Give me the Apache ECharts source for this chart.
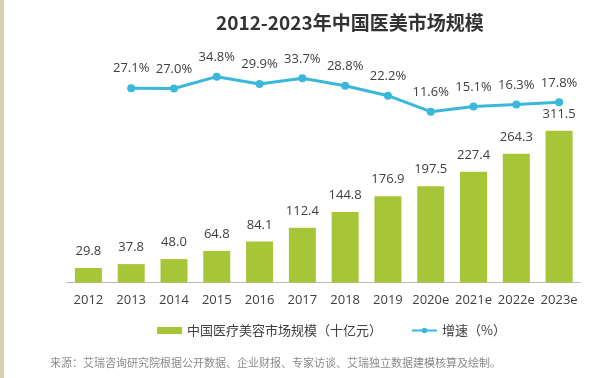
<!DOCTYPE html>
<html>
<head>
<meta charset="utf-8">
<script src="https://cdn.jsdelivr.net/npm/echarts@6/dist/echarts.min.js"></script>
<style>
html,body{margin:0;padding:0;background:#fff;}
#chart{width:604px;height:378px;}
</style>
</head>
<body>
<div id="chart"></div>
<script>
var years = ['2012','2013','2014','2015','2016','2017','2018','2019','2020e','2021e','2022e','2023e'];
var marketSize = [29.8, 37.8, 48.0, 64.8, 84.1, 112.4, 144.8, 176.9, 197.5, 227.4, 264.3, 311.5];
var growthRate = [null, 27.1, 27.0, 34.8, 29.9, 33.7, 28.8, 22.2, 11.6, 15.1, 16.3, 17.8];
var titleText = '2012-2023年中国医美市场规模';
var barName = '中国医疗美容市场规模（十亿元）';
var lineName = '增速（%）';
var sourceText = '来源：艾瑞咨询研究院根据公开数据、企业财报、专家访谈、艾瑞独立数据建模核算及绘制。';

var FONT = '"Open Sans", "Noto Sans CJK SC", sans-serif';
var chart = echarts.init(document.getElementById('chart'), null, {renderer: 'canvas'});
chart.setOption({
  backgroundColor: '#ffffff',
  animation: false,
  textStyle: {fontFamily: FONT},
  title: {
    text: titleText,
    left: 211,
    top: 8,
    textStyle: {fontSize: 19, fontWeight: 'bold', color: '#333333', fontFamily: '"Noto Sans CJK SC", sans-serif'}
  },
  graphic: [
    {type: 'rect', left: 0, top: 0, shape: {width: 4, height: 378}, style: {fill: '#d8cfb2'}},
    {type: 'text', left: 50, top: 357, style: {text: sourceText, fill: '#8a8a8a', font: '11px "Noto Sans CJK SC", sans-serif'}}
  ],
  legend: {
    left: 152,
    top: 319,
    itemGap: 29,
    itemWidth: 25,
    itemHeight: 7,
    textStyle: {fontSize: 13, color: '#404040', fontFamily: '"Noto Sans CJK SC", sans-serif'},
    data: [
      {name: barName, icon: 'rect'},
      {name: lineName}
    ]
  },
  grid: {left: 67, right: 23.5, top: 40, bottom: 95.5, containLabel: false},
  xAxis: {
    type: 'category',
    data: years,
    axisLine: {lineStyle: {color: '#b8b8b8', width: 1}},
    axisTick: {show: false},
    axisLabel: {fontSize: 13, color: '#404040', margin: 11, interval: 0}
  },
  yAxis: [
    {type: 'value', min: 0, max: 497.6, show: false, splitLine: {show: false}},
    {type: 'value', min: -101.6, max: 59.1, show: false, splitLine: {show: false}}
  ],
  series: [
    {
      name: barName,
      type: 'bar',
      yAxisIndex: 0,
      data: marketSize,
      barWidth: 27,
      itemStyle: {color: '#a6c638'},
      label: {
        show: true, position: 'top', distance: 10,
        fontSize: 13, color: '#404040',
        formatter: function (p) { return p.value.toFixed(1); }
      },
      z: 2
    },
    {
      name: lineName,
      type: 'line',
      yAxisIndex: 1,
      data: growthRate,
      symbol: 'circle',
      symbolSize: 8,
      lineStyle: {color: '#3bb7dc', width: 3},
      itemStyle: {color: '#3bb7dc'},
      label: {
        show: true, position: 'top', distance: 9,
        fontSize: 13, color: '#404040',
        formatter: function (p) { return p.value == null ? '' : p.value.toFixed(1) + '%'; }
      },
      z: 3
    }
  ]
});
</script>
</body>
</html>
